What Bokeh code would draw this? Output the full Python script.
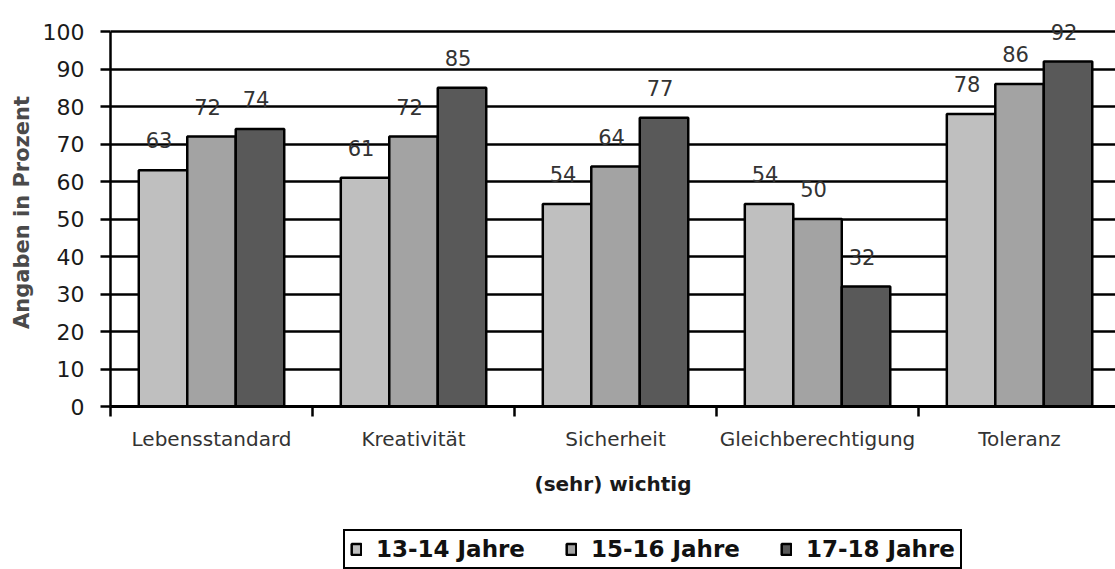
from bokeh.plotting import figure
from bokeh.layouts import column
from bokeh.models import ColumnDataSource, FixedTicker, Legend, LegendItem, Range1d
from bokeh.transform import dodge
from bokeh.core.properties import value
from bokeh.embed import file_html
from bokeh.resources import INLINE

categories = ["Lebensstandard", "Kreativität", "Sicherheit", "Gleichberechtigung", "Toleranz"]
series_names = ["13-14 Jahre", "15-16 Jahre", "17-18 Jahre"]
vals_13_14 = [63, 61, 54, 54, 78]
vals_15_16 = [72, 72, 64, 50, 86]
vals_17_18 = [74, 85, 77, 32, 92]
y_ticks = [0, 10, 20, 30, 40, 50, 60, 70, 80, 90, 100]
colors = ["#bfbfbf", "#a3a3a3", "#595959"]

FONT = "DejaVu Sans"

centers = [i + 0.5 for i in range(len(categories))]
bounds = [float(i) for i in range(len(categories) + 1)]
series = [vals_13_14, vals_15_16, vals_17_18]
data = dict(pos=centers)
for k, s in enumerate(series):
    data[f"s{k}"] = s
    data[f"l{k}"] = [str(v) for v in s]
source = ColumnDataSource(data)

p = figure(width=1115, height=525,
           x_range=Range1d(0, 4.975), y_range=Range1d(0, 103.5),
           output_backend="svg", toolbar_location=None,
           min_border_left=110, min_border_right=0,
           min_border_top=18, min_border_bottom=119)
p.outline_line_color = None
p.background_fill_color = "white"
p.border_fill_color = "white"

# grid
p.xgrid.visible = False
p.ygrid.ticker = FixedTicker(ticks=y_ticks)
p.ygrid.grid_line_color = "black"
p.ygrid.grid_line_width = 2.5

# y axis
p.yaxis.ticker = FixedTicker(ticks=y_ticks, minor_ticks=[])
p.yaxis.bounds = (0, 100)
p.yaxis.axis_line_color = "black"
p.yaxis.axis_line_width = 2.5
p.yaxis.major_tick_line_color = "black"
p.yaxis.major_tick_line_width = 2.5
p.yaxis.major_tick_out = 10
p.yaxis.major_tick_in = 0
p.yaxis.major_label_standoff = 16
p.yaxis.major_label_text_font = FONT
p.yaxis.major_label_text_font_size = "22px"
p.yaxis.major_label_text_color = "#1a1a1a"
p.yaxis.axis_label = "Angaben in Prozent"
p.yaxis.axis_label_text_font = FONT
p.yaxis.axis_label_text_font_style = "bold"
p.yaxis.axis_label_text_font_size = "21px"
p.yaxis.axis_label_text_color = "#4a4a4a"
p.yaxis.axis_label_standoff = 6

# x axis
p.xaxis.ticker = FixedTicker(ticks=centers, minor_ticks=bounds)
p.xaxis.major_label_overrides = {c: name for c, name in zip(centers, categories)}
p.xaxis.axis_line_color = "black"
p.xaxis.axis_line_width = 3
p.xaxis.major_tick_out = 0
p.xaxis.major_tick_in = 0
p.xaxis.major_tick_line_color = None
p.xaxis.minor_tick_out = 10
p.xaxis.minor_tick_in = 0
p.xaxis.minor_tick_line_color = "black"
p.xaxis.minor_tick_line_width = 2.5
p.xaxis.major_label_standoff = 10
p.xaxis.major_label_text_font = FONT
p.xaxis.major_label_text_font_size = "20px"
p.xaxis.major_label_text_color = "#333333"
p.xaxis.axis_label = "(sehr) wichtig"
p.xaxis.axis_label_text_font = FONT
p.xaxis.axis_label_text_font_style = "bold"
p.xaxis.axis_label_text_font_size = "20px"
p.xaxis.axis_label_text_color = "#1a1a1a"
p.xaxis.axis_label_standoff = 18

offsets = [-0.24, 0.0, 0.24]
for k in range(3):
    p.vbar(x=dodge("pos", offsets[k], range=p.x_range), top=f"s{k}", bottom=0,
           width=0.24, source=source, fill_color=colors[k],
           line_color="black", line_width=2.5)
    p.text(x=dodge("pos", offsets[k], range=p.x_range), y=f"s{k}", text=f"l{k}",
           source=source, text_align="center", text_baseline="bottom",
           x_offset=-4, y_offset=-22,
           text_font=value(FONT), text_font_size="21px", text_color="#333333")

# legend strip: hidden renderers that only supply the legend swatches
pl = figure(width=1115, height=44, output_backend="svg", toolbar_location=None,
            x_axis_type=None, y_axis_type=None,
            min_border_left=0, min_border_right=0, min_border_top=0, min_border_bottom=0,
            x_range=Range1d(0, 4.975), y_range=Range1d(0, 100))
pl.outline_line_color = None
pl.xgrid.visible = False
pl.ygrid.visible = False
items = []
for k in range(3):
    r = pl.vbar(x="pos", top=f"s{k}", bottom=0, width=0.24, source=source,
                fill_color=colors[k], line_color="black", line_width=2.5)
    r.visible = False
    items.append(LegendItem(label=series_names[k], renderers=[r]))

legend = Legend(items=items, orientation="horizontal", location=(233, 0),
                border_line_color="black", border_line_width=2.5, border_line_alpha=1.0,
                background_fill_color="white", background_fill_alpha=1.0,
                inactive_fill_alpha=0.0,
                label_text_font=FONT, label_text_font_style="bold",
                label_text_font_size="23px", label_text_color="#111111",
                glyph_width=12, glyph_height=14, label_standoff=14,
                spacing=40, padding=5, margin=0)
pl.add_layout(legend)

layout = column(p, pl, spacing=0)
open("out.html", "w").write(file_html(layout, INLINE))
